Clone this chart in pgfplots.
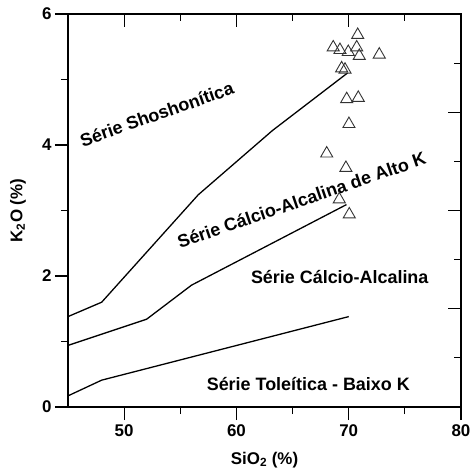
\documentclass[border=0pt]{standalone}
\usepackage{fontspec}
\setmainfont{Liberation Sans}
\usepackage{pgfplots}
\pgfplotsset{compat=1.18}
\usetikzlibrary{calc}
\begin{document}
\begin{tikzpicture}
\pgfplotsset{
  common/.style={
    scale only axis, width=393bp, height=393bp,
    xmin=45, xmax=80, ymin=0, ymax=6,
    axis line style={line width=1.4pt},
    major tick length=13bp, minor tick length=7bp,
    every tick/.style={line width=1.2pt, black},
    /pgf/number format/assume math mode=true,
    ticklabel style={font=\fontsize{17}{19}\selectfont\bfseries},
    label style={font=\fontsize{17}{19}\selectfont\bfseries},
  }
}
\begin{axis}[common,
  tick align=outside,
  xtick pos=left, ytick pos=left,
  xtick={50,60,70,80}, minor xtick={55,65,75},
  ytick={0,2,4,6}, minor ytick={1,3,5},
  xlabel={SiO\textsubscript{2} (\%)}, ylabel={K\textsubscript{2}O (\%)},
  xlabel style={at={(rel axis cs:0.5,0)}, anchor=center, yshift=-53bp},
  ylabel style={at={(rel axis cs:0,0.5)}, anchor=center, yshift=50bp},
  xticklabel style={yshift=-1bp},
  clip=false,
]
\addplot[line width=1.3pt, black] coordinates {(45,1.38) (48,1.60) (56.6,3.24) (63.2,4.22) (69.9,5.10)};
\addplot[line width=1.3pt, black] coordinates {(45,0.94) (52.0,1.34) (56.0,1.86) (69.8,3.09)};
\addplot[line width=1.3pt, black] coordinates {(45,0.17) (48,0.41) (70,1.38)};
\addplot[only marks, mark=triangle, mark size=7pt, mark options={black!80, line width=0.9pt, fill=none}] coordinates {
(70.80,5.68) (68.62,5.49) (69.22,5.45) (69.96,5.42) (70.71,5.49) (70.94,5.36)
(72.72,5.38) (69.37,5.17) (69.67,5.15) (69.82,4.70) (70.85,4.72) (70.02,4.32)
(68.04,3.87) (69.75,3.65) (69.16,3.17) (70.05,2.94)};
\node[rotate=19.5, font=\fontsize{18}{20}\selectfont\bfseries] at (axis cs:52.9,4.47) {Série Shoshonítica};
\node[rotate=19, font=\fontsize{18}{20}\selectfont\bfseries] at (axis cs:65.8,3.16) {Série Cálcio-Alcalina de Alto K};
\node[font=\fontsize{18}{20}\selectfont\bfseries] at (axis cs:69.2,1.98) {Série Cálcio-Alcalina};
\node[font=\fontsize{18}{20}\selectfont\bfseries] at (axis cs:66.4,0.35) {Série Toleítica - Baixo K};
\coordinate (ll) at (rel axis cs:0,0);
\coordinate (ur) at (rel axis cs:1,1);
\end{axis}
\begin{axis}[common,
  tick align=inside,
  xtick pos=right, ytick pos=right,
  xtick={50,60,70,80}, minor xtick={55,65,75},
  ytick={1.5,3,4.5}, minor ytick={0.75,2.25,3.75,5.25},
  xticklabels={}, yticklabels={},
]
\end{axis}
\pgfresetboundingbox
\path ($(ll)+(-68bp,-66bp)$) rectangle ($(ur)+(11bp,14bp)$);
\end{tikzpicture}
\end{document}
